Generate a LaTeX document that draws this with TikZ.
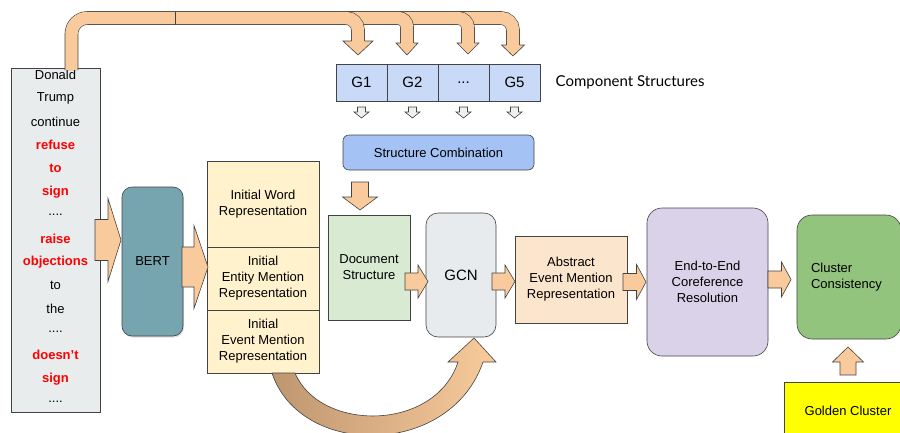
\documentclass[tikz,border=0pt]{standalone}
\usepackage{fontspec}
\setmainfont{Liberation Sans}
\newfontfamily\latofont{Lato}
\usetikzlibrary{calc,positioning,shadows}

\definecolor{linegray}{HTML}{434343}
\definecolor{sentgray}{HTML}{E9ECED}
\definecolor{bertteal}{HTML}{76A5AF}
\definecolor{inityellow}{HTML}{FFF2CC}
\definecolor{docgreen}{HTML}{D9EAD3}
\definecolor{gcngray}{HTML}{E8EBED}
\definecolor{abspeach}{HTML}{FCE5CD}
\definecolor{e2elilac}{HTML}{D9D2E9}
\definecolor{clustergreen}{HTML}{93C47D}
\definecolor{goldyellow}{HTML}{FFFF00}
\definecolor{gblue}{HTML}{C9DAF8}
\definecolor{combblue}{HTML}{A4C2F4}
\definecolor{arroworange}{HTML}{F9CB9C}
\definecolor{curvebrown}{HTML}{BE9670}
\definecolor{hollowgray}{HTML}{EFEFEF}
\definecolor{wordred}{HTML}{FF0000}

\newcommand{\fourdots}{....}

\tikzset{
  bshaft/.store in=\bshaft, bhead/.store in=\bhead, blen/.store in=\blen,
  bshaft=8.5pt, bhead=16.5pt, blen=10pt,
  blockarrow/.style={draw=linegray, line width=0.6pt, fill=arroworange,
    to path={
      ($(\tikztotarget)!\blen!(\tikztostart)$) coordinate (tipbase)
      ($(\tikztostart)!\bshaft!90:(tipbase)$)
      -- ($(tipbase)!\bshaft!-90:(\tikztostart)$)
      -- ($(tipbase)!\bhead!-90:(\tikztostart)$)
      -- (\tikztotarget)
      -- ($(tipbase)!\bhead!90:(\tikztostart)$)
      -- ($(tipbase)!\bshaft!90:(\tikztostart)$)
      -- ($(\tikztostart)!\bshaft!-90:(tipbase)$) -- cycle}},
  hollowarrow/.style={blockarrow, fill=hollowgray, bshaft=4pt, bhead=7.5pt, blen=6pt},
  tube/.style={draw=linegray, line width=0.6pt, double=arroworange, double distance=12.4pt},
  pics/tubehead/.style 2 args={code={
    \filldraw[draw=linegray, line width=0.6pt, fill=arroworange]
      (-6.5,0) -- (-#1,0) -- (0,#2) -- (#1,0) -- (6.5,0);}},
  stagebox/.style={draw=linegray, line width=0.6pt, align=center, inner sep=2pt,
    outer sep=0pt, font=\fontsize{13}{16}\selectfont},
  roundstage/.style={stagebox, rounded corners=#1},
  roundstage/.default=10pt,
  gbox/.style={stagebox, fill=gblue, minimum width=51pt, minimum height=37pt,
    font=\fontsize{15}{18}\selectfont},
  plainword/.style={inner sep=0pt, font=\fontsize{13}{16}\selectfont},
  keyword/.style={inner sep=0pt, text=wordred, font=\fontsize{13}{16}\selectfont\bfseries}
}

\begin{document}
\begin{tikzpicture}[x=1pt, y=-1pt]
  \useasboundingbox (0,0) rectangle (900,432);
  \clip (0,0) rectangle (900,432);

  \node[stagebox, fill=sentgray, minimum width=89pt, minimum height=344pt] (sent) at (55.5,240) {};
  \foreach \word/\kind [count=\i from 0] in {Donald/plainword, Trump/plainword, continue/plainword,
      refuse/keyword, to/keyword, sign/keyword, \fourdots/plainword, raise/keyword,
      objections/keyword, to/plainword, the/plainword, \fourdots/plainword,
      doesn’t/keyword, sign/keyword, \fourdots/plainword}
    \node[\kind] (w\i) at (55.5,75+23.36*\i) {\word};

  \node[roundstage=10pt, fill=bertteal, minimum width=61pt, minimum height=149pt,
    drop shadow={opacity=0.25, shadow xshift=1pt, shadow yshift=-1.5pt}] (bert) at (152.5,261.5) {BERT};

  \node[stagebox, fill=inityellow, minimum width=112pt, minimum height=86pt] (wordrep) at (263,204)
    {Initial Word\\Representation};
  \node[stagebox, fill=inityellow, minimum width=112pt, minimum height=63pt, below=0pt of wordrep] (entrep)
    {Initial\\Entity Mention\\Representation};
  \node[stagebox, fill=inityellow, minimum width=112pt, minimum height=63pt, below=0pt of entrep] (evrep)
    {Initial\\Event Mention\\Representation};

  \node[stagebox, fill=docgreen, minimum width=82pt, minimum height=105pt] (docst) at (369,267.5)
    {Document\\Structure};
  \node[roundstage=12pt, fill=gcngray, minimum width=70pt, minimum height=124pt,
    font=\fontsize{15}{18}\selectfont] (gcn) at (461,275) {GCN};
  \node[stagebox, fill=abspeach, minimum width=112pt, minimum height=87pt] (absrep) at (571,279.5)
    {Abstract\\Event Mention\\Representation};
  \node[roundstage=15pt, fill=e2elilac, minimum width=121pt, minimum height=148pt] (e2e) at (707.5,282)
    {End-to-End\\Coreference\\Resolution};
  \node[roundstage=15pt, fill=clustergreen, text width=76pt, inner xsep=14pt, align=left,
    minimum height=124pt] (cluster) at (849,277) {Cluster\\Consistency};
  \node[stagebox, fill=goldyellow, minimum width=128pt, minimum height=58pt] (golden) at (848,411)
    {Golden Cluster};

  \node[gbox] (g1) at (361.5,82.5) {G1};
  \node[gbox, right=0pt of g1] (g2) {G2};
  \node[gbox, right=0pt of g2] (g3) {...};
  \node[gbox, right=0pt of g3] (g5) {G5};
  \node[right=15.5pt of g5, inner sep=0pt, font=\latofont\fontsize{15}{18}\selectfont] (compst)
    {Component Structures};
  \node[roundstage=6pt, fill=combblue, minimum width=191pt, minimum height=35pt] (combine) at (438.5,152.5)
    {Structure Combination};

  \foreach \g in {g1,g2,g3,g5}
    \draw[hollowarrow] ([yshift=-6pt]\g.south) to ([yshift=-17pt]\g.south);

  \draw[blockarrow, bshaft=8.5pt, bhead=17.5pt, blen=13pt]
    ([xshift=-9pt,yshift=33pt]docst.north) to ([xshift=-9pt,yshift=5pt]docst.north);
  \draw[blockarrow, bshaft=20.5pt, bhead=41.5pt, blen=13pt]
    ([xshift=-5pt]sent.east) to ([xshift=-1pt]sent.east -| bert.west);
  \draw[blockarrow, bshaft=20pt, bhead=41.5pt, blen=14pt]
    ([xshift=-1pt,yshift=-5.5pt]bert.east) to ([xshift=1pt,yshift=-5.5pt]bert.east -| wordrep.west);
  \draw[blockarrow] ([xshift=-5pt,yshift=-14pt]docst.east) to ([xshift=18pt,yshift=-14pt]docst.east);
  \draw[blockarrow] ([xshift=-4pt,yshift=-6.5pt]gcn.east) to ([yshift=-2pt]absrep.west);
  \draw[blockarrow, bhead=17.5pt, blen=9.5pt] ([xshift=-24pt]e2e.west) to ([xshift=-1pt]e2e.west);
  \draw[blockarrow, bhead=17.5pt, blen=9.5pt]
    ([yshift=2.5pt]e2e.east) to ([xshift=-6pt,yshift=-2.5pt]cluster.west);
  \draw[blockarrow, bshaft=8pt, bhead=15.5pt, blen=15pt]
    ([yshift=7pt]golden.north) to ([yshift=35pt]golden.north);

  \draw[draw=linegray, line width=0.6pt, left color=curvebrown, right color=arroworange]
    (272,373) .. controls (300,458) and (450,458) .. (483,362) -- (496,362) -- (474,338)
    -- (448,362) -- (458,362) .. controls (435,432) and (320,432) .. (295,373) -- cycle;

  \draw[tube, rounded corners=12pt] (175,18) -| (513,45);
  \draw[tube, rounded corners=16pt] (71.5,70) |- (300,18) [rounded corners=9pt] -| (407,43);
  \draw[linegray, line width=0.6pt] (175,11.5) -- (175,24.5);
  \draw[tube, rounded corners=12pt] (330,18) -| (358,41);
  \draw[tube, rounded corners=10pt] (440,18) -| (468,43);
  \pic at (358,41) {tubehead={15}{14}};
  \pic at (407,43) {tubehead={11}{12}};
  \pic at (468,43) {tubehead={11}{11}};
  \pic at (513,45) {tubehead={11.5}{11}};
\end{tikzpicture}
\end{document}
